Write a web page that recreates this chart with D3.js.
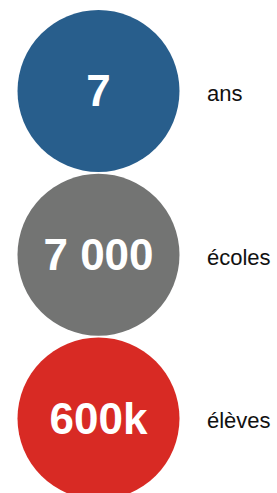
<!DOCTYPE html>
<html>
<head>
<meta charset="utf-8">
<script src="https://cdn.jsdelivr.net/npm/d3@7"></script>
<style>
  html, body { margin: 0; padding: 0; background: #fff; }
  svg { display: block; }
</style>
</head>
<body>
<svg width="277" height="493"></svg>
<script>
// Data
var values = ['7', '7 000', '600k'];          // figures shown inside the circles
var labels = ['ans', 'écoles', 'élèves'];     // words to the right
var colors = ['#285e8c', '#737473', '#d82a24'];

var svg = d3.select('svg');

var radius = 81;
var cx = 98.5;

// vertical placement of the circles
var yScale = d3.scalePoint()
  .domain(d3.range(values.length))
  .range([91, 418.5]);

var rows = svg.selectAll('g.row')
  .data(values.map(function (v, i) { return { value: v, label: labels[i], color: colors[i], i: i }; }))
  .enter()
  .append('g')
  .attr('class', 'row')
  .attr('transform', function (d) { return 'translate(0,' + yScale(d.i) + ')'; });

rows.append('circle')
  .attr('cx', cx)
  .attr('cy', 0)
  .attr('r', radius)
  .style('fill', function (d) { return d.color; });

rows.append('text')
  .attr('x', cx)
  .attr('y', 0)
  .attr('dy', '0.35em')
  .attr('text-anchor', 'middle')
  .style('font-family', '"Liberation Sans", Arial, sans-serif')
  .style('font-weight', 'bold')
  .style('font-size', '44px')
  .style('fill', '#fff')
  .text(function (d) { return d.value; });

rows.append('text')
  .attr('x', 207)
  .attr('y', 0)
  .attr('dy', '0.45em')
  .style('font-family', '"Liberation Sans", Arial, sans-serif')
  .style('font-size', '22px')
  .style('fill', '#111')
  .text(function (d) { return d.label; });
</script>
</body>
</html>
